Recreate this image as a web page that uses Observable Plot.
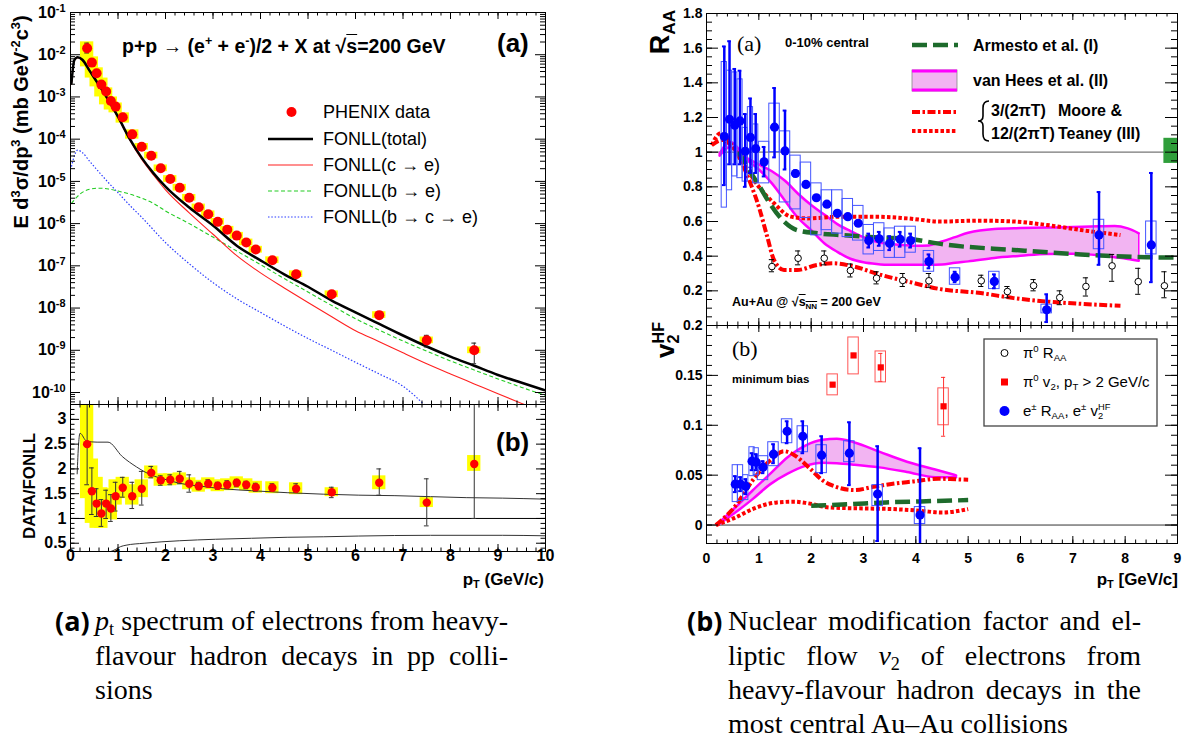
<!DOCTYPE html>
<html><head><meta charset="utf-8">
<script src="https://cdn.jsdelivr.net/npm/d3@7"></script>
<script src="https://cdn.jsdelivr.net/npm/@observablehq/plot@0.6"></script>
<style>
body{margin:0;background:#fff;}
#root{position:relative;width:1187px;height:738px;overflow:hidden;background:#fff;font-family:"Liberation Sans",Arial,Helvetica,sans-serif;color:#000;}
.pad{position:absolute;}
.lab{position:absolute;white-space:nowrap;}
.sp{font-size:64%;position:relative;top:-0.6em;}
.sb{font-size:64%;position:relative;top:0.32em;}
.stk{display:inline-flex;flex-direction:column;font-size:62%;line-height:0.95;vertical-align:0.62em;}
.cap{position:absolute;font-family:"Liberation Serif","Times New Roman",serif;font-size:28px;line-height:28px;width:413px;text-align:justify;text-align-last:justify;white-space:nowrap;}
.capl{position:absolute;font-family:"Liberation Serif","Times New Roman",serif;font-size:28px;line-height:28px;white-space:nowrap;}
.capk{position:absolute;font-family:"Open Sans","Noto Sans",sans-serif;font-weight:bold;font-size:27px;line-height:28px;}
</style></head><body><div id="root"></div>
<script>
// ================= DATA =================
// (a) p+p spectrum, PHENIX
const ppPt    = [0.35,0.45,0.55,0.65,0.75,0.85,0.95,1.1,1.3,1.5,1.7,1.9,2.1,2.3,2.5,2.7,2.9,3.1,3.3,3.5,3.7,3.9,4.25,4.75,5.5,6.5,7.5,8.5];
const ppXsec  = [1.43e-2,6.5e-3,3.65e-3,1.96e-3,1.34e-3,8.0e-4,5.9e-4,3.3e-4,1.3e-4,6.6e-5,4.05e-5,2.04e-5,1.14e-5,7.1e-6,4.1e-6,2.45e-6,1.67e-6,1.1e-6,7.2e-7,5.2e-7,3.57e-7,2.44e-7,1.36e-7,6.3e-8,2.12e-8,6.8e-9,1.72e-9,1.0e-9];
const ppSysLo = [5.15e-3,2.8e-3,1.73e-3,1.0e-3,6.5e-4,4.9e-4,4.2e-4,2.4e-4,1.0e-4,5.5e-5,3.4e-5,1.7e-5,9.5e-6,5.9e-6,3.4e-6,2.05e-6,1.39e-6,9.2e-7,6.0e-7,4.3e-7,3.0e-7,2.0e-7,1.13e-7,5.3e-8,1.77e-8,5.7e-9,1.43e-9,8.3e-10];
const ppSysHi = [2.02e-2,8.9e-3,4.9e-3,2.8e-3,1.64e-3,1.0e-3,7.2e-4,4.2e-4,1.66e-4,7.9e-5,4.9e-5,2.45e-5,1.37e-5,8.5e-6,4.9e-6,2.9e-6,2.0e-6,1.32e-6,8.6e-7,6.2e-7,4.3e-7,2.9e-7,1.63e-7,7.6e-8,2.55e-8,8.2e-9,2.06e-9,1.2e-9];
const ppStatLo = [1.1e-2,5.7e-3,null,null,null,null,null,null,null,null,null,null,null,null,null,null,null,null,null,null,null,null,null,null,null,null,1.2e-9,4.8e-10];
const ppStatHi = [1.88e-2,7.8e-3,null,null,null,null,null,null,null,null,null,null,null,null,null,null,null,null,null,null,null,null,null,null,null,null,2.26e-9,1.48e-9];
// FONLL curves
const fonllPt    = [0.02,0.08,0.15,0.25,0.4,0.6,0.8,1.0,1.25,1.5,1.75,2.0,2.5,3.0,3.5,4.0,4.5,5.0,5.5,6.0,6.5,7.0,7.5,8.0,8.5,9.0,9.5,10];
const fonllTotal = [2.1e-3,7.4e-3,8.7e-3,7.6e-3,4.2e-3,1.9e-3,8.3e-4,3.4e-4,1.0e-4,3.6e-5,1.55e-5,7.5e-6,2.4e-6,9.0e-7,3.0e-7,1.35e-7,6.3e-8,3.2e-8,1.5e-8,7.9e-9,4.2e-9,2.24e-9,1.23e-9,7.1e-10,4.3e-10,2.6e-10,1.7e-10,1.12e-10];
const fonllC     = [2.0e-3,7.3e-3,8.5e-3,7.4e-3,4.1e-3,1.85e-3,8.0e-4,3.25e-4,9.5e-5,3.3e-5,1.4e-5,6.3e-6,1.8e-6,5.6e-7,1.74e-7,6.8e-8,3.0e-8,1.35e-8,6.2e-9,2.9e-9,1.6e-9,8.7e-10,4.8e-10,2.75e-10,1.6e-10,9.3e-11,5.5e-11,3.3e-11];
const fonllBPt   = [0.02,0.2,0.4,0.6,0.8,1.0,1.25,1.5,1.75,2.0,2.5,3.0,3.5,4.0,4.5,5.0,5.5,6.0,6.5,7.0,7.5,8.0,8.5,9.0,9.5,10];
const fonllB     = [3.0e-6,5.0e-6,6.5e-6,6.9e-6,6.6e-6,5.9e-6,5.0e-6,4.0e-6,3.0e-6,2.0e-6,1.0e-6,4.8e-7,2.24e-7,1.07e-7,5.0e-8,2.4e-8,1.15e-8,5.6e-9,3.0e-9,1.66e-9,9.5e-10,5.6e-10,3.4e-10,2.1e-10,1.32e-10,8.5e-11];
const fonllBCPt  = [0.02,0.08,0.15,0.25,0.4,0.6,0.8,1.0,1.25,1.5,2.0,2.5,3.0,3.5,4.0,4.5,5.0,5.5,6.0,6.5,7.0,7.5];
const fonllBC    = [2.24e-5,3.98e-5,5.5e-5,4.79e-5,3.02e-5,1.66e-5,9.3e-6,5.4e-6,2.7e-6,1.41e-6,3.55e-7,1.12e-7,4.0e-8,1.66e-8,7.9e-9,3.8e-9,1.9e-9,1.0e-9,5.2e-10,2.75e-10,1.41e-10,4.5e-11];
// (b) DATA/FONLL
const ratioVal    = [2.5,1.55,1.3,1.1,1.3,1.2,1.45,1.62,1.45,1.6,1.92,1.77,1.78,1.8,1.7,1.65,1.7,1.66,1.68,1.72,1.68,1.63,1.62,1.6,1.53,1.72,1.32,2.1];
const ratioStatLo = [1.68,1.08,1.04,0.84,1.0,0.94,1.15,1.43,1.2,1.27,1.82,1.67,1.68,1.7,1.53,1.58,1.64,1.59,1.6,1.64,1.6,1.55,1.55,1.53,1.42,1.47,0.85,1.0];
const ratioStatHi = [3.3,2.02,1.6,1.38,1.57,1.48,1.73,1.83,1.73,1.95,2.05,1.86,1.88,1.95,1.88,1.73,1.78,1.73,1.76,1.79,1.75,1.71,1.7,1.7,1.63,2.0,1.8,3.3];
const ratioSysLo  = [1.4,0.9,0.8,0.8,1.0,0.97,1.27,1.4,1.27,1.42,1.8,1.65,1.66,1.68,1.58,1.53,1.58,1.54,1.56,1.6,1.56,1.51,1.5,1.48,1.44,1.58,1.22,1.95];
const ratioSysHi  = [3.3,2.2,1.83,1.62,1.6,1.45,1.78,1.83,1.68,1.78,2.06,1.9,1.9,1.92,1.82,1.77,1.82,1.78,1.8,1.84,1.8,1.75,1.74,1.72,1.62,1.86,1.42,2.27];
const ratioRef = [1];
const bandUpPt = [0.14,0.17,0.2,0.34,0.56,0.79,1.09,1.39,1.69,1.99,2.3,2.75,3.2,3.81,4.56,5.32,6.07,6.83,7.58,8.33,9.09,10];
const bandUp   = [1.9,2.5,2.72,2.56,2.54,2.54,2.25,2.04,1.88,1.79,1.71,1.65,1.6,1.56,1.52,1.49,1.47,1.46,1.44,1.42,1.41,1.39];
const bandLoPt = [0.85,0.94,1.05,1.17,1.55,2.3,3.05,3.81,4.56,5.32,6.07,7.58,9.09,10];
const bandLo   = [0.333,0.37,0.43,0.46,0.5,0.55,0.58,0.6,0.62,0.63,0.645,0.66,0.66,0.65];

// Au+Au R_AA (0-10%)
const raaPt     = [0.34,0.44,0.54,0.64,0.74,0.84,0.94,1.1,1.3,1.5,1.7,1.9,2.1,2.3,2.5,2.7,2.9,3.1,3.3,3.5,3.7,3.9,4.25,4.75,5.5,6.5,7.5,8.5];
const raaVal    = [1.09,1.19,1.155,1.18,1.005,1.085,1.02,0.944,1.144,1.007,0.877,0.814,0.737,0.70,0.647,0.628,0.59,0.49,0.50,0.474,0.497,0.49,0.369,0.279,0.254,0.091,0.522,0.465];
const raaStatLo = [0.81,0.93,0.93,0.93,0.80,0.88,0.88,0.86,0.97,0.90,0.86,0.80,0.725,0.69,0.635,0.615,0.575,0.45,0.46,0.435,0.455,0.45,0.33,0.25,0.215,0.02,0.35,0.25];
const raaStatHi = [1.61,1.64,1.48,1.47,1.22,1.31,1.22,1.03,1.37,1.24,0.895,0.83,0.75,0.71,0.66,0.64,0.605,0.53,0.54,0.515,0.54,0.53,0.41,0.31,0.295,0.18,0.77,0.88];
const raaSysLo  = [0.68,0.78,0.86,0.85,0.83,0.91,0.82,0.82,1.0,0.71,0.67,0.62,0.52,0.55,0.53,0.51,0.49,0.41,0.43,0.39,0.39,0.42,0.31,0.235,0.21,0.07,0.44,0.41];
const raaSysHi  = [1.52,1.47,1.46,1.42,1.14,1.26,1.16,1.06,1.28,1.12,0.98,0.94,0.82,0.78,0.78,0.73,0.69,0.58,0.59,0.56,0.57,0.57,0.43,0.33,0.31,0.12,0.61,0.60];
const pi0Pt  = [1.25,1.75,2.25,2.75,3.25,3.75,4.25,5.25,5.75,6.25,6.75,7.25,7.75,8.25,8.75];
const pi0Raa = [0.34,0.388,0.388,0.317,0.273,0.26,0.258,0.258,0.196,0.23,0.161,0.225,0.344,0.253,0.229];
const pi0Lo  = [0.31,0.35,0.35,0.28,0.24,0.225,0.22,0.225,0.16,0.2,0.12,0.17,0.255,0.18,0.16];
const pi0Hi  = [0.38,0.43,0.43,0.355,0.31,0.30,0.30,0.29,0.225,0.265,0.20,0.275,0.41,0.33,0.31];
const raaRef = [1];
const normBox = [{pt0: 8.74, pt1: 9.0, lo: 0.935, hi: 1.08}];
const armRaaPt = [0.6,0.71,0.85,1.0,1.19,1.48,1.73,2.12,2.56,3.2,3.84,4.6,5.87,7.15,8.42,9.0];
const armRaa   = [1.0,0.954,0.88,0.81,0.714,0.6,0.55,0.532,0.522,0.509,0.5,0.465,0.436,0.41,0.394,0.392];
const vhRaaPt  = [0.25,0.45,0.75,1.0,1.25,1.5,1.75,2.0,2.25,2.5,2.75,3.0,3.25,3.5,3.75,4.0,4.25,4.5,4.75,5.0,5.5,6.0,6.5,7.0,7.5,7.8,8.05,8.26];
const vhRaaHi  = [0.99,1.06,0.97,0.93,0.89,0.835,0.76,0.695,0.64,0.585,0.545,0.51,0.483,0.47,0.465,0.46,0.462,0.485,0.51,0.535,0.557,0.562,0.565,0.568,0.572,0.574,0.56,0.532];
const vhRaaLo  = [0.98,1.03,0.96,0.9,0.82,0.72,0.62,0.55,0.475,0.425,0.385,0.365,0.355,0.35,0.35,0.35,0.35,0.352,0.362,0.37,0.39,0.402,0.413,0.414,0.405,0.394,0.384,0.373];
const mt3RaaPt = [0.1,0.3,0.5,0.65,0.84,1.0,1.16,1.29,1.48,1.73,2.12,2.43,2.82,3.33,3.84,4.47,5.24,5.87,6.51,7.15,7.91];
const mt3Raa   = [1.04,1.07,1.03,0.954,0.82,0.685,0.513,0.378,0.32,0.32,0.35,0.359,0.34,0.292,0.254,0.21,0.187,0.158,0.138,0.125,0.114];
const mt12RaaPt = [0.1,0.27,0.46,0.71,1.0,1.29,1.61,1.92,2.56,3.2,3.84,4.47,5.2,5.87,6.5,7.15,7.91];
const mt12Raa   = [1.04,1.11,1.05,0.935,0.8,0.705,0.628,0.618,0.628,0.628,0.618,0.6,0.605,0.6,0.58,0.551,0.522];

// Au+Au v2 (minimum bias)
const v2Pt     = [0.55,0.65,0.75,0.87,0.95,1.08,1.28,1.54,1.84,2.2,2.73,3.27,4.08];
const v2Val    = [0.041,0.041,0.039,0.064,0.063,0.058,0.071,0.094,0.089,0.07,0.072,0.031,0.01];
const v2StatLo = [0.033,0.034,0.031,0.055,0.055,0.052,0.062,0.082,0.072,0.052,0.04,-0.016,-0.02];
const v2StatHi = [0.049,0.048,0.046,0.072,0.071,0.064,0.081,0.104,0.104,0.089,0.103,0.079,0.077];
const v2SysLo  = [0.023,0.024,0.025,0.049,0.05,0.045,0.059,0.082,0.073,0.052,0.063,0.019,0.001];
const v2SysHi  = [0.06,0.06,0.05,0.078,0.077,0.069,0.083,0.106,0.099,0.08,0.084,0.04,0.018];
const pv2Pt     = [2.41,2.81,3.33,4.53];
const pv2Val    = [0.1407,0.17,0.158,0.119];
const pv2StatLo = [0.139,0.168,0.144,0.089];
const pv2StatHi = [0.1425,0.172,0.172,0.148];
const pv2SysLo  = [0.13,0.151,0.143,0.1];
const pv2SysHi  = [0.151,0.188,0.174,0.137];
const v2Ref = [0];
const vhV2Pt = [0.25,0.55,0.88,1.22,1.55,1.89,2.22,2.49,2.83,3.3,3.83,4.37,4.77];
const vhV2Hi = [0.003,0.0176,0.0346,0.0515,0.068,0.0797,0.0854,0.0864,0.0827,0.0736,0.0634,0.0556,0.0498];
const vhV2Lo = [0.0014,0.0125,0.026,0.041,0.0515,0.0593,0.0624,0.062,0.0605,0.0578,0.0532,0.048,0.048];
const mt3V2Pt = [0.18,0.55,0.88,1.22,1.48,1.68,1.95,2.22,2.49,2.83,3.16,3.56,3.96,4.43,4.77,5.0];
const mt3V2   = [0.0,0.019,0.0447,0.065,0.074,0.07,0.058,0.0447,0.038,0.035,0.038,0.0414,0.0437,0.0464,0.0458,0.0454];
const mt12V2Pt = [0.18,0.55,0.88,1.35,1.68,1.95,2.35,3.03,3.56,4.1,4.5,5.0];
const mt12V2   = [0.0,0.0075,0.016,0.0227,0.0234,0.0217,0.0176,0.0166,0.016,0.0142,0.0125,0.016];
const armV2Pt = [2.0,2.76,3.43,4.1,5.0];
const armV2   = [0.0193,0.021,0.0227,0.0237,0.025];

// ================= HELPERS =================
const FONT = "'Liberation Sans', Arial, Helvetica, sans-serif";
const root = document.getElementById("root");
const zip = (xs, ys, key="v") => xs.map((x,i)=>({pt:x, [key]: ys[i]}));
const rng = (a,b,s) => d3.range(Math.round(a/s), Math.round(b/s)+1).map(k=>+(k*s).toFixed(4));
const C = "monotone-x";
const BUTT = {strokeLinecap:"butt", strokeLinejoin:"round"};

function supFix(svg){
  d3.select(svg).selectAll("text").each(function(){
    const m = /^10\^(-?\d+)$/.exec(this.textContent);
    if(m){ const s=d3.select(this); s.text(null);
      s.append("tspan").text("10");
      s.append("tspan").attr("dy","-0.55em").attr("font-size","0.68em").text(m[1]); }
  });
}
function rootPad(o){
  const iw = o.width - o.ml - o.mr, ih = o.height - o.mt - o.mb;
  const inX = v => v>=o.xDomain[0]-1e-9 && v<=o.xDomain[1]+1e-9;
  const inY = v => v>=Math.min(...o.yDomain)*(1-1e-9) && v<=Math.max(...o.yDomain)*(1+1e-9);
  const tk = (vals, len, side) => {
    const st = {stroke:"#000", strokeWidth:1};
    if(side==="left")   return Plot.tickY(vals.filter(inY),{y:d=>d, insetRight: iw-len, ...st});
    if(side==="right")  return Plot.tickY(vals.filter(inY),{y:d=>d, insetLeft: iw-len, ...st});
    if(side==="top")    return Plot.tickX(vals.filter(inX),{x:d=>d, insetBottom: ih-len, ...st});
    return Plot.tickX(vals.filter(inX),{x:d=>d, insetTop: ih-len, ...st});
  };
  const [xM,xm] = o.xTickLen, [yM,ym] = o.yTickLen;
  const marks = [...o.marks,
    tk(o.xMinor,xm,"top"), tk(o.xMajor,xM,"top"), tk(o.xMinor,xm,"bottom"), tk(o.xMajor,xM,"bottom"),
    tk(o.yMinor,ym,"left"), tk(o.yMajor,yM,"left"), tk(o.yMinor,ym,"right"), tk(o.yMajor,yM,"right"),
    Plot.frame({stroke:"#000", strokeWidth:1})];
  if(o.yLabels) marks.push(Plot.text(o.yLabels,{y:d=>d, text:o.yFmt, frameAnchor:"left", textAnchor:"end", dx:-o.yPad, fontSize:o.fs, fontWeight:"bold", fontFamily:FONT, fill:"#000"}));
  if(o.xLabels) marks.push(Plot.text(o.xLabels,{x:d=>d, text:o.xFmt, frameAnchor:"bottom", dy:o.xPad, fontSize:o.fs, fontWeight:"bold", fontFamily:FONT, fill:"#000"}));
  const svg = Plot.plot({width:o.width, height:o.height, marginTop:o.mt, marginRight:o.mr, marginBottom:o.mb, marginLeft:o.ml,
    x:{domain:o.xDomain, axis:null}, y:{type:o.yType||"linear", domain:o.yDomain, axis:null},
    style:{background:"transparent", overflow:"visible", fontFamily:FONT}, marks});
  supFix(svg);
  const d = document.createElement("div"); d.className="pad";
  Object.assign(d.style,{left:o.left+"px", top:o.top+"px", width:o.width+"px", height:o.height+"px"});
  d.appendChild(svg); root.appendChild(d);
}
function errMarks(data, color, w, capW, capSW){
  return [
    Plot.ruleX(data,{x:"pt", y1:"eLo", y2:"eHi", stroke:color, strokeWidth:w, clip:true}),
    Plot.ruleY(data,{y:"eLo", x1:d=>d.pt-capW, x2:d=>d.pt+capW, stroke:color, strokeWidth:capSW, clip:true}),
    Plot.ruleY(data,{y:"eHi", x1:d=>d.pt-capW, x2:d=>d.pt+capW, stroke:color, strokeWidth:capSW, clip:true})
  ];
}

// ================= (a) top: spectrum =================
const spec = ppPt.map((pt,i)=>({pt, v:ppXsec[i], sLo:ppSysLo[i], sHi:ppSysHi[i], eLo:ppStatLo[i], eHi:ppStatHi[i]}));
const logMinor = [];
for(let k=-11;k<=-2;k++) for(let m=2;m<=9;m++) logMinor.push(m*Math.pow(10,k));
const logMajor = d3.range(-10,0).map(k=>Math.pow(10,k));
rootPad({left:0, top:0, width:560, height:410, ml:70, mr:15, mt:12, mb:6,
  xDomain:[0,10], yDomain:[5.2e-11,0.1], yType:"log",
  xMajor:rng(0,10,1), xMinor:rng(0,10,0.2), yMajor:logMajor, yMinor:logMinor,
  xTickLen:[7,3.5], yTickLen:[10,5],
  yLabels:logMajor, yFmt:d=>"10^"+Math.round(Math.log10(d)), yPad:5, fs:16,
  marks:[
    Plot.rect(spec,{x1:d=>d.pt-0.14, x2:d=>d.pt+0.14, y1:"sLo", y2:"sHi", fill:"#ffff00", clip:true}),
    Plot.line(zip(fonllBCPt,fonllBC),{x:"pt", y:"v", stroke:"#2a3cff", strokeWidth:1.2, strokeDasharray:"1.5,1.8", curve:C, clip:true, ...BUTT}),
    Plot.line(zip(fonllBPt,fonllB),{x:"pt", y:"v", stroke:"#22cc22", strokeWidth:1.1, strokeDasharray:"4,2.5", curve:C, clip:true, ...BUTT}),
    Plot.line(zip(fonllPt,fonllC),{x:"pt", y:"v", stroke:"#ff2020", strokeWidth:1.1, curve:C, clip:true}),
    Plot.line(zip(fonllPt,fonllTotal),{x:"pt", y:"v", stroke:"#000", strokeWidth:2.5, curve:C, clip:true}),
    ...errMarks(spec.filter(d=>d.eLo!=null),"#222",1,0.05,1),
    Plot.dot(spec,{x:"pt", y:"v", r:5, fill:"#ff0000"})
  ]});

// ================= (a) bottom: ratio =================
const ratio = ppPt.map((pt,i)=>({pt, v:ratioVal[i], sLo:ratioSysLo[i], sHi:ratioSysHi[i], eLo:ratioStatLo[i], eHi:ratioStatHi[i]}));
rootPad({left:0, top:398, width:560, height:200, ml:70, mr:15, mt:6, mb:47,
  xDomain:[0,10], yDomain:[0.333,3.3],
  xMajor:rng(0,10,1), xMinor:rng(0,10,0.2), yMajor:rng(0.5,3,0.5), yMinor:rng(0.4,3.3,0.1),
  xTickLen:[7,3.5], yTickLen:[9,4.5],
  yLabels:rng(0.5,3,0.5), yFmt:d=>String(d), yPad:4,
  xLabels:rng(0,10,1), xFmt:d=>String(d), xPad:9, fs:16,
  marks:[
    Plot.ruleY(ratioRef,{stroke:"#000", strokeWidth:1}),
    Plot.rect(ratio,{x1:d=>d.pt-0.14, x2:d=>d.pt+0.14, y1:"sLo", y2:"sHi", fill:"#ffff00", clip:true}),
    Plot.line(zip(bandUpPt,bandUp),{x:"pt", y:"v", stroke:"#333", strokeWidth:1, curve:C, clip:true}),
    Plot.line(zip(bandLoPt,bandLo),{x:"pt", y:"v", stroke:"#333", strokeWidth:1, curve:C, clip:true}),
    ...errMarks(ratio,"#333",1,0.05,1),
    Plot.dot(ratio,{x:"pt", y:"v", r:4.2, fill:"#ff0000"})
  ]});

// ================= (b) top: R_AA =================
const raa = raaPt.map((pt,i)=>({pt, v:raaVal[i], sLo:raaSysLo[i], sHi:raaSysHi[i], eLo:raaStatLo[i], eHi:raaStatHi[i]}));
const pi0 = pi0Pt.map((pt,i)=>({pt, v:pi0Raa[i], eLo:pi0Lo[i], eHi:pi0Hi[i]}));
const vhR = vhRaaPt.map((pt,i)=>({pt, lo:vhRaaLo[i], hi:vhRaaHi[i]}));
const hw = pt => pt<1 ? 0.05 : 0.1;
rootPad({left:640, top:0, width:547, height:331, ml:66, mr:10, mt:13, mb:6,
  xDomain:[0,9], yDomain:[0,1.8],
  xMajor:rng(0,9,1), xMinor:rng(0,9,0.2), yMajor:rng(0,1.8,0.2), yMinor:rng(0,1.8,0.05),
  xTickLen:[7,3.5], yTickLen:[12,6],
  yLabels:rng(0.2,1.8,0.2), yFmt:d=>String(d), yPad:4, fs:14,
  marks:[
    Plot.ruleY(raaRef,{stroke:"#777", strokeWidth:1.2}),
    Plot.areaY(vhR,{x:"pt", y1:"lo", y2:"hi", fill:"#f2b4f2", curve:C}),
    Plot.line(vhR,{x:"pt", y:"hi", stroke:"#ff00ff", strokeWidth:2.5, curve:C}),
    Plot.line(vhR,{x:"pt", y:"lo", stroke:"#ff00ff", strokeWidth:2.5, curve:C}),
    Plot.ruleX(vhR.slice(-1),{x:"pt", y1:"lo", y2:"hi", stroke:"#ff00ff", strokeWidth:1.5}),
    Plot.line(zip(mt12RaaPt,mt12Raa),{x:"pt", y:"v", stroke:"#ff0000", strokeWidth:4, strokeDasharray:"3.5,2.2", curve:C, ...BUTT}),
    Plot.line(zip(mt3RaaPt,mt3Raa),{x:"pt", y:"v", stroke:"#ff0000", strokeWidth:4, strokeDasharray:"8,2.5,2.5,2.5", curve:C, ...BUTT}),
    Plot.line(zip(armRaaPt,armRaa),{x:"pt", y:"v", stroke:"#1e6b2c", strokeWidth:4.5, strokeDasharray:"15,6", curve:C, ...BUTT}),
    Plot.rect(raa,{x1:d=>d.pt-hw(d.pt), x2:d=>d.pt+hw(d.pt), y1:"sLo", y2:"sHi", fill:"none", stroke:"#4455ff", strokeWidth:1}),
    ...errMarks(pi0,"#000",1,0.05,1),
    Plot.dot(pi0,{x:"pt", y:"v", r:3.3, fill:"#fff", stroke:"#000", strokeWidth:1}),
    ...errMarks(raa,"#0000ff",2.5,0.035,2),
    Plot.dot(raa,{x:"pt", y:"v", r:4.6, fill:"#0000ff"}),
    Plot.rect(normBox,{x1:"pt0", x2:"pt1", y1:"lo", y2:"hi", fill:"#2f9e3b"})
  ]});

// ================= (b) bottom: v2 =================
const v2 = v2Pt.map((pt,i)=>({pt, v:v2Val[i], sLo:v2SysLo[i], sHi:v2SysHi[i], eLo:v2StatLo[i], eHi:v2StatHi[i]}));
const pv2 = pv2Pt.map((pt,i)=>({pt, v:pv2Val[i], sLo:pv2SysLo[i], sHi:pv2SysHi[i], eLo:pv2StatLo[i], eHi:pv2StatHi[i]}));
const vhV = vhV2Pt.map((pt,i)=>({pt, lo:vhV2Lo[i], hi:vhV2Hi[i]}));
rootPad({left:640, top:319, width:547, height:280, ml:66, mr:10, mt:6, mb:56,
  xDomain:[0,9], yDomain:[-0.0185,0.2],
  xMajor:rng(0,9,1), xMinor:rng(0,9,0.2), yMajor:rng(0,0.2,0.05), yMinor:rng(-0.01,0.2,0.01),
  xTickLen:[7,3.5], yTickLen:[12,6],
  yLabels:rng(0,0.2,0.05), yFmt:d=>String(d), yPad:4,
  xLabels:rng(0,9,1), xFmt:d=>String(d), xPad:19, fs:14,
  marks:[
    Plot.ruleY(v2Ref,{stroke:"#333", strokeWidth:1}),
    Plot.areaY(vhV,{x:"pt", y1:"lo", y2:"hi", fill:"#f2b4f2", curve:C}),
    Plot.line(vhV,{x:"pt", y:"hi", stroke:"#ff00ff", strokeWidth:2.5, curve:C}),
    Plot.line(vhV,{x:"pt", y:"lo", stroke:"#ff00ff", strokeWidth:2.5, curve:C}),
    Plot.line(zip(mt12V2Pt,mt12V2),{x:"pt", y:"v", stroke:"#ff0000", strokeWidth:4, strokeDasharray:"3.5,2.2", curve:C, ...BUTT}),
    Plot.line(zip(mt3V2Pt,mt3V2),{x:"pt", y:"v", stroke:"#ff0000", strokeWidth:4, strokeDasharray:"8,2.5,2.5,2.5", curve:C, ...BUTT}),
    Plot.line(zip(armV2Pt,armV2),{x:"pt", y:"v", stroke:"#1e6b2c", strokeWidth:4.5, strokeDasharray:"15,6", curve:C, ...BUTT}),
    Plot.rect(pv2,{x1:d=>d.pt-0.1, x2:d=>d.pt+0.1, y1:"sLo", y2:"sHi", fill:"none", stroke:"#ff5555", strokeWidth:1}),
    ...errMarks(pv2,"#ff3333",1,0.04,1),
    Plot.dot(pv2,{x:"pt", y:"v", r:3.5, symbol:"square", fill:"#ff0000"}),
    Plot.rect(v2,{x1:d=>d.pt-hw(d.pt), x2:d=>d.pt+hw(d.pt), y1:"sLo", y2:"sHi", fill:"none", stroke:"#4455ff", strokeWidth:1, clip:true}),
    ...errMarks(v2,"#0000ff",2.5,0.035,2),
    Plot.dot(v2,{x:"pt", y:"v", r:4.6, fill:"#0000ff"})
  ]});

// ================= legends (graphics overlay) =================
const ov = d3.select(root).append("svg").attr("width",1187).attr("height",738)
  .style("position","absolute").style("left","0px").style("top","0px").style("pointer-events","none");
const L = (x1,x2,y,stroke,w,dash) => ov.append("line").attr("x1",x1).attr("x2",x2).attr("y1",y).attr("y2",y)
  .attr("stroke",stroke).attr("stroke-width",w).attr("stroke-dasharray",dash||null);
// (a) legend
ov.append("circle").attr("cx",291.5).attr("cy",112).attr("r",5).attr("fill","#ff0000");
L(268,313,139,"#000",2.5); L(268,313,165,"#ff2020",1.1); L(268,313,191,"#22cc22",1.1,"4,2.5"); L(268,313,217,"#2a3cff",1.2,"1.5,1.8");
// (b) R_AA legend
L(912,958,45,"#1e6b2c",4.5,"15,6");
ov.append("rect").attr("x",912).attr("y",70).attr("width",45).attr("height",21).attr("fill","#f2b4f2").attr("stroke","#888").attr("stroke-width",0.8);
L(912,957,71,"#ff00ff",3); L(912,957,90,"#ff00ff",3);
L(912,957,112,"#ff0000",4,"8,2.5,2.5,2.5"); L(912,957,131,"#ff0000",4,"3.5,2.2");
ov.append("path").attr("d","M989,101 Q983,101 983,108 L983,116 Q983,121 978,121 Q983,121 983,126 L983,134 Q983,141 989,141")
  .attr("fill","none").attr("stroke","#000").attr("stroke-width",1.6);
// (b) v2 legend
ov.append("rect").attr("x",984).attr("y",339).attr("width",173).attr("height",87).attr("fill","#fff").attr("stroke","#444").attr("stroke-width",1.3);
ov.append("circle").attr("cx",1004.5).attr("cy",353).attr("r",3.5).attr("fill","#fff").attr("stroke","#000").attr("stroke-width",1);
ov.append("rect").attr("x",1001).attr("y",378.5).attr("width",7).attr("height",7).attr("fill","#ff0000");
ov.append("circle").attr("cx",1004.5).attr("cy",411).attr("r",5).attr("fill","#0000ff");

// ================= texts =================
function lab(html, o){
  const d = document.createElement("div"); d.className="lab"; d.innerHTML=html;
  const lh = o.lh || Math.round(o.size*1.3);
  Object.assign(d.style,{fontSize:o.size+"px", lineHeight:lh+"px", fontWeight:o.bold?"bold":"normal",
    fontFamily:o.family||FONT});
  if(o.rot){ Object.assign(d.style,{left:o.x+"px", top:o.cy+"px", transform:"translate(-50%,-50%) rotate(-90deg)"}); }
  else if(o.right!=null){ Object.assign(d.style,{right:(1187-o.right)+"px", top:(o.cy-lh/2)+"px"}); }
  else { Object.assign(d.style,{left:o.x+"px", top:(o.cy-lh/2)+"px"}); }
  root.appendChild(d); return d;
}
const SERIF = "'Liberation Serif','Times New Roman',serif";
// (a) panel
lab('E d<span class="sp">3</span>σ/dp<span class="sp">3</span> (mb GeV<span class="sp">-2</span>c<span class="sp">3</span>)',{x:22, cy:122, size:20, bold:true, rot:true});
lab('p+p → (e<span class="sp">+</span> + e<span class="sp">-</span>)/2 + X at √<span style="text-decoration:overline">s</span>=200 GeV',{x:122, cy:46, size:19.5, bold:true});
lab('(a)',{x:497, cy:43, size:26, bold:true});
lab('PHENIX data',{x:323, cy:112, size:18});
lab('FONLL(total)',{x:323, cy:139, size:18});
lab('FONLL(c → e)',{x:323, cy:165, size:18});
lab('FONLL(b → e)',{x:323, cy:191, size:18});
lab('FONLL(b → c → e)',{x:323, cy:217, size:18});
lab('(b)',{x:496, cy:442, size:26, bold:true});
lab('DATA/FONLL',{x:30, cy:486, size:17, bold:true, rot:true});
lab('p<span class="sb">T</span> (GeV/c)',{right:544, cy:580, size:17, bold:true});
// (b) panel
lab('R<span class="sb">AA</span>',{x:662, cy:32, size:27, bold:true, rot:true});
lab('(a)',{x:737, cy:43, size:22, family:SERIF});
lab('0-10% central',{x:785, cy:42, size:13, bold:true});
lab('Au+Au @ √<span style="text-decoration:overline">s<span class="sb">NN</span></span> = 200 GeV',{x:732, cy:302, size:12.5, bold:true});
lab('Armesto et al. (I)',{x:973, cy:45, size:16, bold:true});
lab('van Hees et al. (II)',{x:973, cy:80, size:16, bold:true});
lab('3/(2πT)',{x:991, cy:110, size:16, bold:true});
lab('12/(2πT)',{x:991, cy:133, size:16, bold:true});
lab('Moore &amp;',{x:1058, cy:110, size:16, bold:true});
lab('Teaney (III)',{x:1058, cy:133, size:16, bold:true});
lab('v<span class="stk"><span>HF</span><span>2</span></span>',{x:665, cy:340, size:26, bold:true, rot:true});
lab('(b)',{x:732, cy:348, size:22, family:SERIF});
lab('minimum bias',{x:732, cy:379, size:11.5, bold:true});
lab('π<span class="sp">0</span> R<span class="sb">AA</span>',{x:1023, cy:353, size:15});
lab('π<span class="sp">0</span> v<span class="sb">2</span>, p<span class="sb">T</span> &gt; 2 GeV/c',{x:1023, cy:382, size:15});
lab('e<span class="sp">±</span> R<span class="sb">AA</span>, e<span class="sp">±</span> v<span class="stk"><span>HF</span><span>2</span></span>',{x:1023, cy:411, size:15});
lab('p<span class="sb">T</span> [GeV/c]',{right:1178, cy:580, size:17, bold:true});

// ================= captions =================
function capLine(html, x, cy, last){
  const d=document.createElement("div"); d.className= last ? "capl" : "cap"; d.innerHTML=html;
  d.style.left=x+"px"; d.style.top=(cy-14)+"px"; root.appendChild(d);
}
function capKey(t,x,cy){ const d=document.createElement("div"); d.className="capk"; d.textContent=t; d.style.left=x+"px"; d.style.top=(cy-14)+"px"; root.appendChild(d); }
capKey("(a)",55,621);
capLine('<i>p</i><sub style="font-size:65%;vertical-align:-0.25em;line-height:0">t</sub> spectrum of electrons from heavy-',95,621);
capLine('flavour hadron decays in pp colli-',95,655.5);
capLine('sions',95,690,true);
capKey("(b)",687,621);
capLine('Nuclear modification factor and el-',728,621);
capLine('liptic flow <i>ν</i><sub style="font-size:65%;vertical-align:-0.25em;line-height:0">2</sub> of electrons from',728,655.5);
capLine('heavy-flavour hadron decays in the',728,690);
capLine('most central Au–Au collisions',728,723.5,true);
</script></body></html>
